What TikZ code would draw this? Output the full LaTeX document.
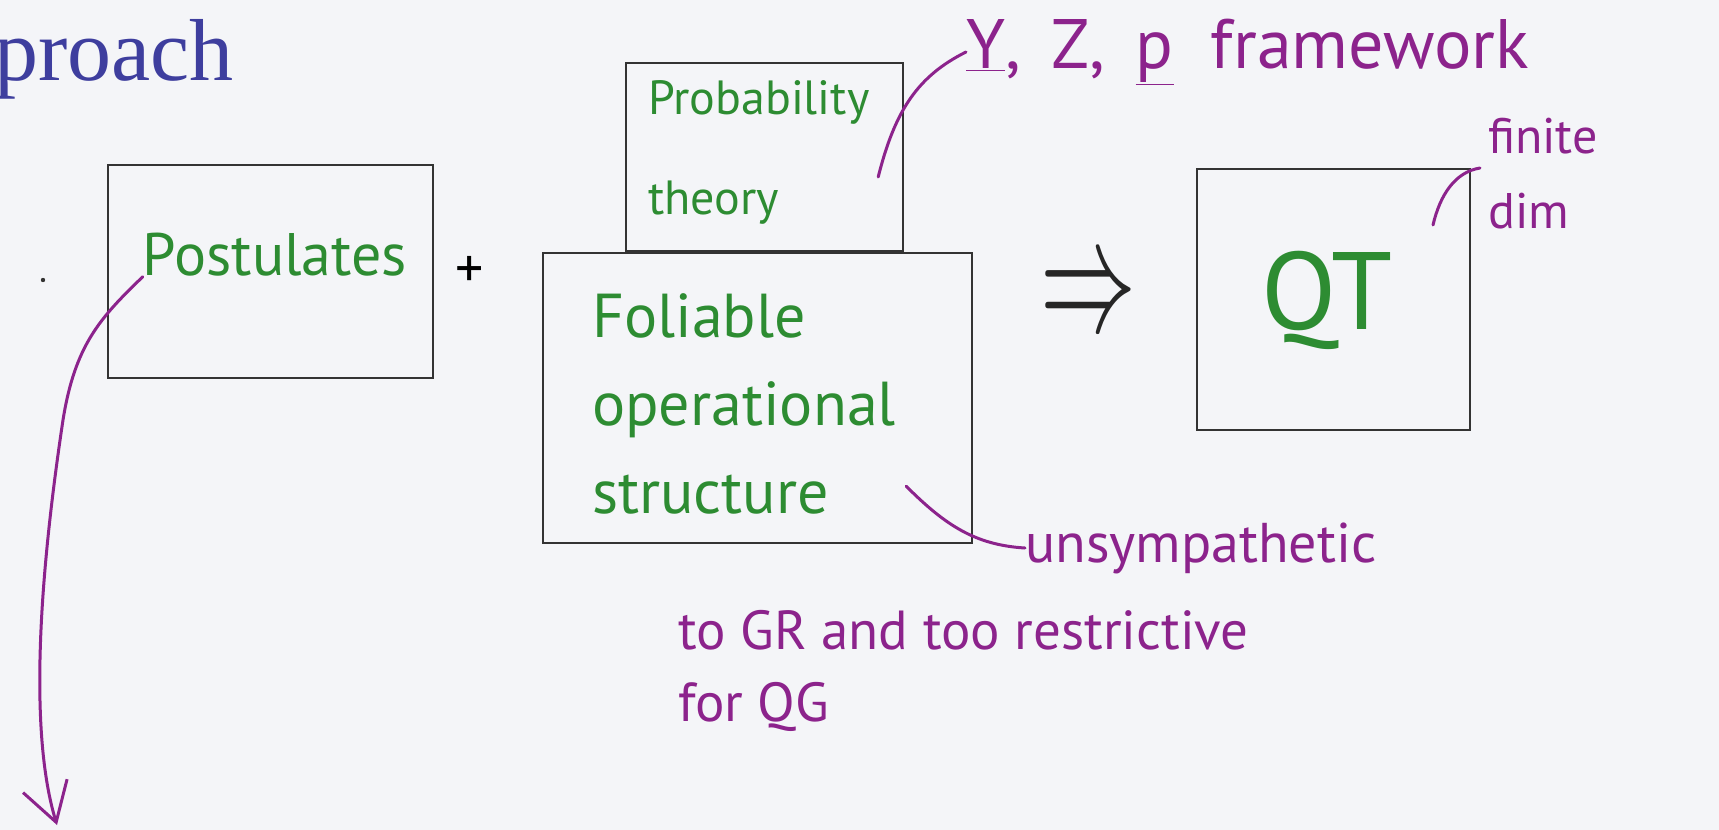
\documentclass[tikz,border=0pt]{standalone}
\usepackage{fix-cm}
\usepackage{fontspec}
\usepackage{graphicx}
\setmainfont{Liberation Serif}
\newfontfamily\hand{PT Sans}
\usetikzlibrary{positioning,arrows.meta}
\definecolor{pen}{RGB}{45,140,50}
\definecolor{ink}{RGB}{140,35,140}
\definecolor{slide}{RGB}{62,62,158}
\definecolor{paper}{RGB}{244,245,248}

\begin{document}
\begin{tikzpicture}
        [x=1pt,y=-1pt,
        box/.style={rectangle,draw=black!80,line width=2.4pt,inner sep=0pt},
        green/.style={text=pen,font=\hand,inner sep=0pt},
        note/.style={text=ink,font=\hand,inner sep=0pt},
        lead/.style={draw=ink,line width=3pt,line cap=round}]
        \fill[paper] (0,0) rectangle (1719,830);
        \useasboundingbox (0,0) rectangle (1719,830);
        \node[text=slide,font=\fontsize{88}{90}\selectfont,anchor=base west,inner sep=0pt](title) at (-6,80){proach};
        \node[box,minimum width=325pt,minimum height=213pt](post) at (270.5,271.5){};
        \node[box,minimum width=277pt,minimum height=188pt](prob) at (764.5,157){};
        \node[box,minimum width=429pt,minimum height=290pt](fol) at (757.5,398){};
        \node[box,minimum width=273pt,minimum height=261pt](qt) at (1333.5,299.5){};
        \fill[black!80] (43,280) circle (2.2pt);
        \node[green,font=\hand\fontsize{60}{60}\selectfont](posttxt) at (275,255){Postulates};
        \node[font=\hand\fontsize{56}{56}\selectfont,inner sep=0pt](plus) at (470,272){+};
        \node[green,font=\hand\fontsize{48}{100}\selectfont,align=left,anchor=north west](probtxt) at (648,80){Probability\\ theory};
        \node[green,font=\hand\fontsize{62}{88}\selectfont,align=left,anchor=north west](foltxt) at (592,293){Foliable\\ operational\\ structure};
        \node[green,font=\hand\fontsize{110}{110}\selectfont](qttxt) at (1327,300){QT};
        \node[text=black!85,font=\fontsize{96}{96}\selectfont,inner sep=0pt](implies) at (1088,301){\scalebox{1}[1.7]{$\Rightarrow$}};
        \node[note,font=\hand\fontsize{70}{70}\selectfont,anchor=west](frame) at (966,52){\underline{Y},\, Z,\, \underline{p}\ \ framework};
        \node[note,font=\hand\fontsize{50}{75}\selectfont,align=left,anchor=north west](fin) at (1488,118){finite\\ dim};
        \node[note,font=\hand\fontsize{56}{56}\selectfont,anchor=west](uns) at (1025,548){unsympathetic};
        \node[note,font=\hand\fontsize{55}{72}\selectfont,align=left,anchor=north west](gr) at (678,610){to GR and too restrictive\\ for QG};
        \coordinate (down) at (57,825);
        \draw[lead] (prob.east) ++(-26,20) .. controls (895,110) and (918,76) .. (frame.west);
        \draw[lead] (fin.north west) ++(-8,50) .. controls (1455,172) and (1440,195) .. (1433,225);
        \draw[lead] (fol.south east) ++(-67,-58) .. controls (945,525) and (975,545) .. (uns.west);
        \draw[lead,-{Straight Barb[length=38pt,width=46pt]}] (posttxt.south west)
                .. controls (100,318) and (75,345) .. (63,420)
                .. controls (45,540) and (25,720) .. (down);
    \end{tikzpicture}
\end{document}
